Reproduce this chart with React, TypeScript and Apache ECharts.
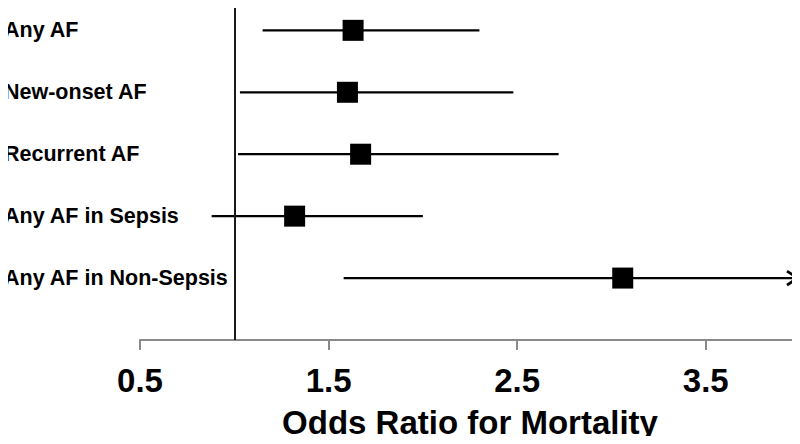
import React, { useEffect, useRef } from "react";
import * as echarts from "echarts";

const categories = [
  "Any AF",
  "New-onset AF",
  "Recurrent AF",
  "Any AF in Sepsis",
  "Any AF in Non-Sepsis",
];
const oddsRatio = [1.63, 1.6, 1.67, 1.32, 3.06];
const ciLower = [1.15, 1.03, 1.02, 0.88, 1.58];
const ciUpper = [2.3, 2.48, 2.72, 2.0, 5.9];
const xTicksMin = 0.5;
const xTicksMax = 4.0;
const xTickStep = 1;
const referenceOR = 1;
const axisTitle = "Odds Ratio for Mortality";

const FONT = '"Liberation Sans", Arial, Helvetica, sans-serif';

export default function App() {
  const ref = useRef<HTMLDivElement>(null);
  useEffect(() => {
    if (!ref.current) return;
    const chart = echarts.init(ref.current, null, { renderer: "svg" });
    const ciData = categories.map((_, i) => [ciLower[i], ciUpper[i], i]);
    const pointData = categories.map((_, i) => [oddsRatio[i], i]);
    chart.setOption({
      animation: false,
      backgroundColor: "#ffffff",
      grid: [
        { left: 140, right: 0, top: 0, bottom: 104, containLabel: false },
        { left: 140, right: 0, top: 30, bottom: 166, containLabel: false },
      ],
      xAxis: [
        {
          gridIndex: 0,
          type: "value",
          position: "bottom",
          min: xTicksMin,
          max: xTicksMax,
          interval: xTickStep,
          axisLine: { show: true, onZero: false, lineStyle: { color: "#8a8a8a", width: 2 } },
          axisTick: { show: true, length: 10, lineStyle: { color: "#8a8a8a", width: 2 } },
          splitLine: { show: false },
          axisLabel: {
            show: true,
            margin: 24,
            fontSize: 33,
            fontWeight: "bold",
            fontFamily: FONT,
            color: "#000",
            showMaxLabel: false,
            formatter: (v: number) => (v >= xTicksMax ? "" : v.toFixed(1)),
          },
          name: axisTitle,
          nameLocation: "middle",
          nameGap: 66,
          nameTextStyle: {
            fontSize: 33,
            fontWeight: "bold",
            fontFamily: FONT,
            color: "#000",
          },
        },
        {
          gridIndex: 1,
          type: "value",
          show: false,
        },
      ],
      yAxis: [
        {
          gridIndex: 0,
          type: "value",
          inverse: true,
          min: -0.49,
          max: 5.0,
          show: false,
        },
        {
          gridIndex: 1,
          type: "category",
          inverse: true,
          boundaryGap: false,
          data: categories,
          axisLine: { show: false },
          axisTick: { show: false },
          splitLine: { show: false },
          axisLabel: {
            show: true,
            align: "left",
            margin: 136,
            fontSize: 21.5,
            fontWeight: "bold",
            fontFamily: FONT,
            color: "#000",
          },
        },
      ],
      series: [
        {
          type: "custom",
          xAxisIndex: 0,
          yAxisIndex: 0,
          clip: false,
          z: 2,
          data: ciData,
          renderItem: (params: any, api: any) => {
            const lo = api.value(0);
            const hi = api.value(1);
            const idx = api.value(2);
            const clipped = hi > xTicksMax;
            const p1 = api.coord([Math.max(lo, xTicksMin), idx]);
            const p2 = api.coord([Math.min(hi, xTicksMax), idx]);
            const children: any[] = [
              {
                type: "line",
                shape: { x1: p1[0], y1: p1[1], x2: p2[0] - (clipped ? 2 : 0), y2: p2[1] },
                style: { stroke: "#000", lineWidth: 2.2 },
              },
            ];
            if (clipped) {
              children.push({
                type: "polyline",
                shape: {
                  points: [
                    [p2[0] - 13, p2[1] - 7],
                    [p2[0] - 2.5, p2[1]],
                    [p2[0] - 13, p2[1] + 7],
                  ],
                },
                style: { stroke: "#000", lineWidth: 2.8, fill: "none" },
              });
            }
            return { type: "group", children };
          },
        },
        {
          type: "scatter",
          xAxisIndex: 0,
          yAxisIndex: 0,
          symbol: "rect",
          symbolSize: 21,
          z: 3,
          itemStyle: { color: "#000", opacity: 1 },
          data: pointData,
          silent: true,
          markLine: {
            silent: true,
            symbol: "none",
            label: { show: false },
            lineStyle: { color: "#1a1a1a", width: 2, type: "solid" },
            data: [{ xAxis: referenceOR }],
          },
        },
      ],
    });
    return () => chart.dispose();
  }, []);
  return <div ref={ref} style={{ width: 800, height: 444, margin: -8 }} />;
}
